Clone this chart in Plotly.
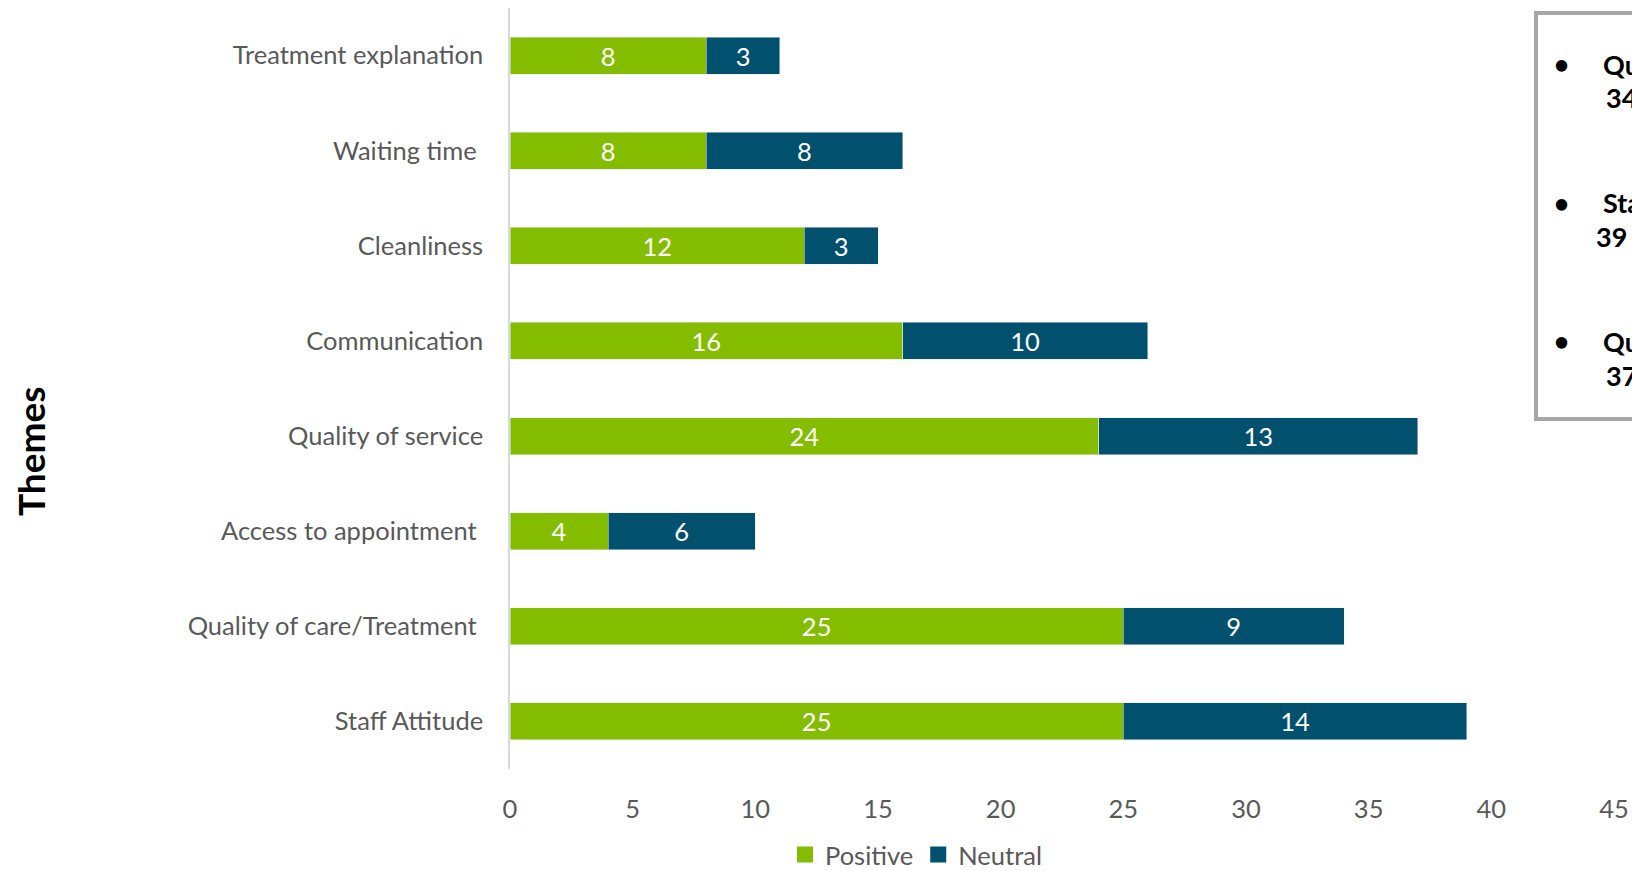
import plotly.graph_objects as go

themes = ["Treatment explanation", "Waiting time\u00a0", "Cleanliness", "Communication",
          "Quality of service", "Access to appointment\u00a0", "Quality of care/Treatment\u00a0",
          "Staff Attitude"]
positive = [8, 8, 12, 16, 24, 4, 25, 25]
neutral = [3, 8, 3, 10, 13, 6, 9, 14]
x_ticks = [0, 5, 10, 15, 20, 25, 30, 35, 40, 45]

box_lines = [("Quality of care/Treatment", "34"), ("Staff Attitude", "39"), ("Quality of service", "37")]

GREEN = "#84BD00"
TEAL = "#00506E"
FONT = "Lato"
FS = 25.5

fig = go.Figure()
fig.add_trace(go.Bar(y=themes, x=positive, name="Positive", orientation="h",
                     marker_color=GREEN, text=positive, textposition="inside",
                     insidetextanchor="middle", showlegend=False,
                     textfont=dict(color="white", size=FS, family=FONT), width=0.39))
fig.add_trace(go.Bar(y=themes, x=neutral, name="Neutral", orientation="h",
                     marker_color=TEAL, text=neutral, textposition="inside",
                     insidetextanchor="middle", showlegend=False,
                     textfont=dict(color="white", size=FS, family=FONT), width=0.39))
# legend entries with larger square swatches
for name, col in [("Positive", GREEN), ("Neutral", TEAL)]:
    fig.add_trace(go.Scatter(x=[None], y=[None], mode="markers", name=name,
                             marker=dict(symbol="square", size=16, color=col), showlegend=True))

W, H = 1632, 871
L, R, T, B = 510, 18, 8, 102
pw, ph = W - L - R, H - T - B

def px(xp):
    return (xp - L) / pw

def py(yp):
    return (H - B - yp) / ph

fig.update_layout(
    width=W, height=H, barmode="stack",
    margin=dict(l=L, r=R, t=T, b=B, autoexpand=False),
    paper_bgcolor="white", plot_bgcolor="white",
    font=dict(family=FONT, color="#595959", size=FS),
    showlegend=True,
    legend=dict(orientation="h", x=px(916), xanchor="center", y=py(855), yanchor="middle",
                font=dict(size=FS, color="#595959", family=FONT), traceorder="normal",
                itemwidth=30, tracegroupgap=0),
    xaxis=dict(range=[0, 45], tickvals=x_ticks, showgrid=False, zeroline=False,
               showline=False, ticks="", ticklabelstandoff=22,
               tickfont=dict(size=FS, color="#595959", family=FONT)),
    yaxis=dict(categoryorder="array", categoryarray=themes[::-1], showgrid=False,
               showline=True, linecolor="#D9D9D9", linewidth=1.5, ticks="",
               ticklabelstandoff=20, tickfont=dict(size=FS, color="#595959", family=FONT)),
)

fig.add_annotation(text="<b>Themes</b>", xref="paper", yref="paper", x=px(30), y=py(451),
                   textangle=-90, showarrow=False, font=dict(size=37, color="black", family=FONT),
                   xanchor="center", yanchor="middle")

# Text box on right (clipped by page edge as in the reference)
fig.add_shape(type="rect", xref="paper", yref="paper", x0=px(1536), x1=px(1700),
              y0=py(419), y1=py(13), line=dict(color="#A6A6A6", width=4), fillcolor="white",
              layer="above")

bullet_y = [(64, 98), (203, 236), (341, 375)]
line2_x = [1604, 1594, 1604]
for (title, num), (y1, y2), x2 in zip(box_lines, bullet_y, line2_x):
    fig.add_annotation(text="<b>\u2022</b>", xref="paper", yref="paper", x=px(1561), y=py(y1),
                       showarrow=False, xanchor="center", yanchor="middle",
                       font=dict(size=26, color="black", family=FONT))
    fig.add_annotation(text="<b>" + title + "</b>", xref="paper", yref="paper", x=px(1601), y=py(y1),
                       showarrow=False, xanchor="left", yanchor="middle",
                       font=dict(size=27, color="black", family=FONT))
    fig.add_annotation(text="<b>" + num + "</b>", xref="paper", yref="paper", x=px(x2), y=py(y2),
                       showarrow=False, xanchor="left", yanchor="middle",
                       font=dict(size=27, color="black", family=FONT))

fig.write_html("out.html")
